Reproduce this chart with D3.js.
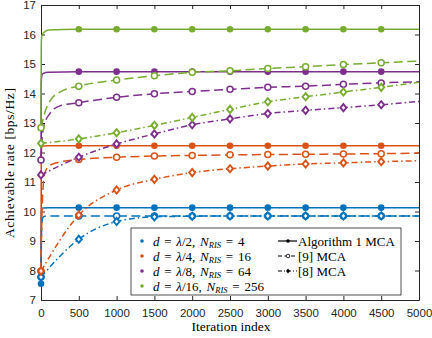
<!DOCTYPE html>
<html>
<head>
<meta charset="utf-8">
<script src="https://cdn.jsdelivr.net/npm/d3@7"></script>
<style>
  body { margin: 0; background: #fff; }
  svg { display: block; }
  .tick text { font-family: "Liberation Sans", Arial, sans-serif; font-size: 11.5px; fill: #262626; }
  .serif { font-family: "Liberation Serif", "DejaVu Serif", serif; fill: #000; }
</style>
</head>
<body>
<div id="chart"></div>
<script>
// iteration grids
var itAlg  = [0, 3, 10, 30, 100, 500, 1000, 1500, 2000, 2500, 3000, 3500, 4000, 4500, 5000];
var itRef9 = [0, 10, 25, 50, 120, 250, 500, 1000, 1500, 2000, 2500, 3000, 3500, 4000, 4500, 5000];
var itRef8 = [0, 500, 1000, 1500, 2000, 2500, 3000, 3500, 4000, 4500, 5000];

// Algorithm 1 MCA
var algBlue   = [7.55, 9.9, 10.1, 10.12, 10.13, 10.13, 10.13, 10.13, 10.13, 10.13, 10.13, 10.13, 10.13, 10.13, 10.13];
var algOrange = [7.98, 11.9, 12.18, 12.22, 12.23, 12.23, 12.23, 12.23, 12.23, 12.23, 12.23, 12.23, 12.23, 12.23, 12.23];
var algPurple = [11.75, 14.3, 14.6, 14.68, 14.72, 14.74, 14.74, 14.74, 14.74, 14.74, 14.74, 14.74, 14.74, 14.74, 14.74];
var algGreen  = [12.84, 15.6, 15.95, 16.05, 16.15, 16.18, 16.18, 16.18, 16.18, 16.18, 16.18, 16.18, 16.18, 16.18, 16.18];

// [9] MCA
var ref9Blue   = [7.78, 9.55, 9.8, 9.84, 9.85, 9.85, 9.85, 9.85, 9.85, 9.85, 9.85, 9.85, 9.85, 9.85, 9.85, 9.85];
var ref9Orange = [7.98, 9.6, 10.7, 11.3, 11.57, 11.68, 11.76, 11.84, 11.88, 11.90, 11.92, 11.93, 11.94, 11.95, 11.96, 11.98];
var ref9Purple = [11.75, 12.3, 12.75, 13.0, 13.33, 13.58, 13.69, 13.87, 13.99, 14.07, 14.14, 14.21, 14.25, 14.31, 14.36, 14.40];
var ref9Green  = [12.84, 12.95, 13.1, 13.35, 13.75, 14.05, 14.25, 14.46, 14.60, 14.72, 14.77, 14.85, 14.91, 14.98, 15.04, 15.10];

// [8] MCA
var ref8Blue   = [7.78, 9.06, 9.66, 9.82, 9.84, 9.85, 9.85, 9.85, 9.85, 9.85, 9.85];
var ref8Orange = [7.98, 9.88, 10.73, 11.09, 11.32, 11.45, 11.54, 11.61, 11.65, 11.69, 11.72];
var ref8Purple = [11.24, 11.84, 12.29, 12.63, 12.94, 13.14, 13.32, 13.43, 13.52, 13.62, 13.73];
var ref8Green  = [12.31, 12.46, 12.67, 12.92, 13.19, 13.46, 13.72, 13.89, 14.05, 14.21, 14.38];

var xTicks = d3.range(0, 5001, 500);
var yTicks = d3.range(7, 18, 1);
var colors = ['#0072BD', '#D95319', '#7E2F8E', '#77AC30'];
var setups = [['2', '4'], ['4', '16'], ['8', '64'], ['16', '256']];
var methods = ['Algorithm 1 MCA', '[9] MCA', '[8] MCA'];

var width = 432, height = 338;
var x = d3.scaleLinear().domain([0, 5000]).range([41, 419]);
var y = d3.scaleLinear().domain([7, 17]).range([300, 5]);

var styles = [
  {dash: null, marker: 'filled'},
  {dash: '9,4.5', marker: 'circle'},
  {dash: '6,3,1.5,3', marker: 'diamond'}
];

var series = [];
[algBlue, algOrange, algPurple, algGreen].forEach(function (v, i) {
  series.push({it: itAlg, v: v, c: colors[i], s: 0});
});
[ref9Blue, ref9Orange, ref9Purple, ref9Green].forEach(function (v, i) {
  series.push({it: itRef9, v: v, c: colors[i], s: 1});
});
[ref8Blue, ref8Orange, ref8Purple, ref8Green].forEach(function (v, i) {
  series.push({it: itRef8, v: v, c: colors[i], s: 2});
});

var svg = d3.select('#chart').append('svg')
  .attr('width', width)
  .attr('height', height);

// axes
svg.append('g')
  .attr('transform', 'translate(0,300)')
  .call(d3.axisBottom(x).tickValues(xTicks).tickFormat(d3.format('d'))
    .tickSizeInner(-4).tickSizeOuter(0).tickPadding(8.5));
svg.append('g')
  .attr('transform', 'translate(41,0)')
  .call(d3.axisLeft(y).tickValues(yTicks).tickFormat(d3.format('d'))
    .tickSizeInner(-4).tickSizeOuter(0).tickPadding(5));
svg.append('g')
  .attr('transform', 'translate(0,5)')
  .call(d3.axisTop(x).tickValues(xTicks).tickSizeInner(-4).tickSizeOuter(0).tickFormat(''));
svg.append('g')
  .attr('transform', 'translate(419,0)')
  .call(d3.axisRight(y).tickValues(yTicks).tickSizeInner(-4).tickSizeOuter(0).tickFormat(''));
svg.selectAll('.domain, .tick line').attr('stroke', '#262626');

var line = d3.line()
  .x(function (d) { return x(d[0]); })
  .y(function (d) { return y(d[1]); })
  .curve(d3.curveMonotoneX);

var diamond = 'M0,-3.6L3,0L0,3.6L-3,0Z';

series.forEach(function (sr) {
  var pts = sr.it.map(function (t, k) { return [t, sr.v[k]]; });
  var st = styles[sr.s];
  svg.append('path')
    .datum(pts)
    .attr('d', line)
    .attr('fill', 'none')
    .attr('stroke', sr.c)
    .attr('stroke-width', 1.5)
    .attr('stroke-dasharray', st.dash);

  var marks = pts.filter(function (p) { return p[0] % 500 === 0 && p[0] < 5000; });
  var g = svg.append('g');
  if (st.marker === 'filled') {
    g.selectAll('circle').data(marks).enter().append('circle')
      .attr('cx', function (d) { return x(d[0]); })
      .attr('cy', function (d) { return y(d[1]); })
      .attr('r', 3.3)
      .attr('fill', sr.c);
  } else if (st.marker === 'circle') {
    g.selectAll('circle').data(marks).enter().append('circle')
      .attr('cx', function (d) { return x(d[0]); })
      .attr('cy', function (d) { return y(d[1]); })
      .attr('r', 3)
      .attr('fill', '#fff')
      .attr('stroke', sr.c)
      .attr('stroke-width', 1.5);
  } else {
    g.selectAll('path').data(marks).enter().append('path')
      .attr('d', diamond)
      .attr('transform', function (d) { return 'translate(' + x(d[0]) + ',' + y(d[1]) + ')'; })
      .attr('fill', '#fff')
      .attr('stroke', sr.c)
      .attr('stroke-width', 1.9);
  }
});

// axis labels
svg.append('text')
  .attr('class', 'serif')
  .attr('transform', 'translate(14,163) rotate(-90)')
  .attr('text-anchor', 'middle')
  .attr('font-size', 13.5)
  .attr('textLength', 150)
  .text('Achievable rate [bps/Hz]');
svg.append('text')
  .attr('class', 'serif')
  .attr('x', 231)
  .attr('y', 331)
  .attr('text-anchor', 'middle')
  .attr('font-size', 13.5)
  .text('Iteration index');

// legend
var leg = svg.append('g');
leg.append('rect')
  .attr('x', 131).attr('y', 228)
  .attr('width', 270).attr('height', 67)
  .attr('fill', '#fff')
  .attr('stroke', '#000')
  .attr('stroke-width', 0.7);

var rowY = d3.scaleLinear().domain([0, 3]).range([241, 286]);

setups.forEach(function (s, i) {
  var ry = rowY(i);
  leg.append('circle').attr('cx', 142).attr('cy', ry).attr('r', 1.8).attr('fill', colors[i]);
  var t = leg.append('text').attr('class', 'serif')
    .attr('x', 153).attr('y', ry + 4.5)
    .attr('font-size', 13)
    .style('word-spacing', '1.5px');
  t.append('tspan').attr('font-style', 'italic').text('d');
  t.append('tspan').text(' = ');
  t.append('tspan').attr('font-style', 'italic').text('λ');
  t.append('tspan').text('/' + s[0] + ', ');
  t.append('tspan').attr('font-style', 'italic').text('N');
  t.append('tspan').attr('font-style', 'italic').attr('font-size', 8.5).attr('dy', 2.5).text('RIS');
  t.append('tspan').attr('dy', -2.5).text(' = ' + s[1]);
});

methods.forEach(function (m, i) {
  var ry = rowY(i);
  var st = styles[i];
  leg.append('line')
    .attr('x1', 278).attr('x2', 297)
    .attr('y1', ry).attr('y2', ry)
    .attr('stroke', '#000')
    .attr('stroke-width', 1.2)
    .attr('stroke-dasharray', st.dash ? (i === 1 ? '4,2.5' : '4,2,1,2') : null);
  if (st.marker === 'filled') {
    leg.append('circle').attr('cx', 288).attr('cy', ry).attr('r', 1.8).attr('fill', '#000');
  } else if (st.marker === 'circle') {
    leg.append('circle').attr('cx', 288).attr('cy', ry).attr('r', 1.8)
      .attr('fill', '#fff').attr('stroke', '#000').attr('stroke-width', 0.8);
  } else {
    leg.append('path').attr('d', 'M0,-2.4L2,0L0,2.4L-2,0Z')
      .attr('transform', 'translate(288,' + ry + ')')
      .attr('fill', '#000');
  }
  leg.append('text').attr('class', 'serif')
    .attr('x', 298).attr('y', ry + 4.5)
    .attr('font-size', 13)
    .text(m);
});
</script>
</body>
</html>
